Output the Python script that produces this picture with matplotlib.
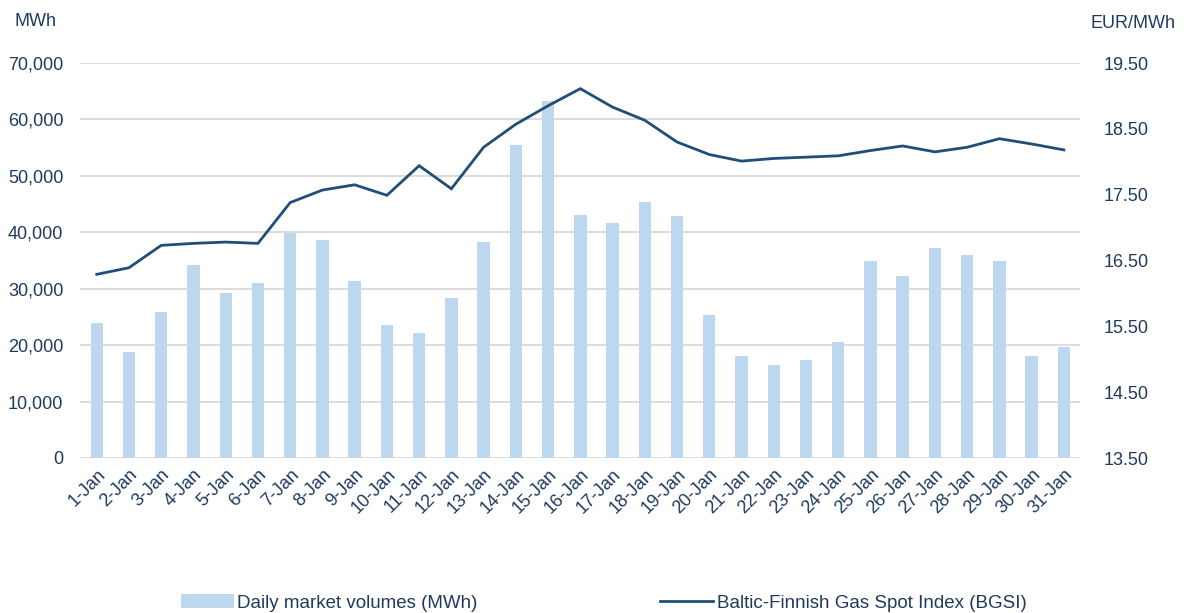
import numpy as np
import matplotlib
matplotlib.use('Agg')
import matplotlib.pyplot as plt
from matplotlib.ticker import FuncFormatter, FixedLocator

plt.rcParams['font.family'] = ['Liberation Sans', 'DejaVu Sans']

# data
days = [f"{d}-Jan" for d in range(1, 32)]
volumes = [24000, 18700, 25800, 34200, 29300, 31000, 39800, 38700, 31400, 23600,
           22200, 28300, 38300, 55500, 63300, 43100, 41700, 45400, 42900, 25300,
           18000, 16400, 17300, 20500, 34900, 32200, 37300, 35900, 34900, 18000,
           19600]
bgsi = [16.29, 16.39, 16.73, 16.76, 16.78, 16.76, 17.38, 17.57, 17.65, 17.49,
        17.94, 17.59, 18.22, 18.57, 18.85, 19.11, 18.83, 18.63, 18.30, 18.11,
        18.01, 18.05, 18.07, 18.09, 18.17, 18.24, 18.15, 18.22, 18.35, 18.27,
        18.18]

left_ticks = [0, 10000, 20000, 30000, 40000, 50000, 60000, 70000]
right_ticks = [13.5, 14.5, 15.5, 16.5, 17.5, 18.5, 19.5]

text_col = '#1F3A5F'
bar_col = '#BDD7EE'
line_col = '#1F4E79'
grid_col = '#D9D9D9'
fontsize = 13
legend_fontsize = 13.5

fig = plt.figure(figsize=(11.91, 6.13), dpi=100)
ax = fig.add_axes([80 / 1191, 1 - 458 / 613, 1000 / 1191, 395 / 613])
ax2 = ax.twinx()

x = np.arange(len(days))
bars = ax.bar(x, volumes, width=0.385, color=bar_col, label='Daily market volumes (MWh)', zorder=2)
line, = ax2.plot(x, bgsi, color=line_col, linewidth=2.0, label='Baltic-Finnish Gas Spot Index (BGSI)',
                 solid_joinstyle='miter')

ax.set_xlim(-0.52, 30.5)
ax.set_ylim(0, 70000)
ax2.set_ylim(13.5, 19.5)

ax.yaxis.set_major_locator(FixedLocator(left_ticks))
ax.yaxis.set_major_formatter(FuncFormatter(lambda v, p: f"{int(v):,}"))
ax2.yaxis.set_major_locator(FixedLocator(right_ticks))
ax2.yaxis.set_major_formatter(FuncFormatter(lambda v, p: f"{v:.2f}"))

ax.grid(True, axis='y', color=grid_col, linewidth=1.3, zorder=0)
ax.set_axisbelow(True)
for a in (ax, ax2):
	for s in a.spines.values():
		s.set_visible(False)
	a.tick_params(length=0, colors=text_col, labelsize=fontsize)
ax.tick_params(axis='y', pad=12)
ax2.tick_params(axis='y', pad=17)

ax.set_xticks(x)
ax.set_xticklabels(days, rotation=45, ha='right', va='top', rotation_mode='anchor', color=text_col,
                   fontsize=fontsize)
ax.tick_params(axis='x', pad=6)

fig.text(15 / 1191, 1 - 22 / 613, 'MWh', color=text_col, fontsize=fontsize, va='center', ha='left')
fig.text(1090 / 1191, 1 - 24 / 613, 'EUR/MWh', color=text_col, fontsize=fontsize, va='center', ha='left')

fig.legend([bars, line], [bars.get_label(), line.get_label()], loc='center',
           bbox_to_anchor=(603.5 / 1191, 1 - 603 / 613), ncol=2, frameon=False, fontsize=legend_fontsize,
           handlelength=2.83, handletextpad=0.2, columnspacing=9.7, labelcolor=text_col,
           borderpad=0)

plt.savefig('out.png', dpi=100)
